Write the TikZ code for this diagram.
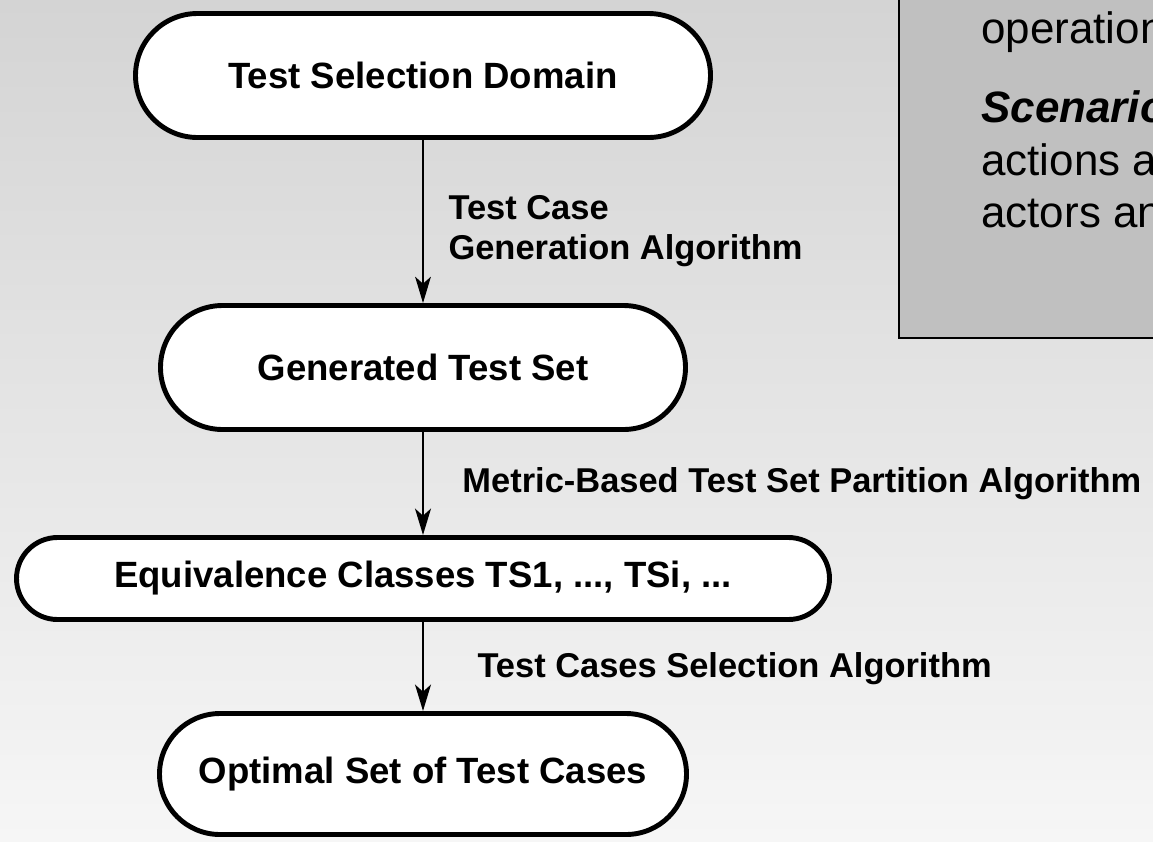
\documentclass[tikz,border=0pt]{standalone}
\usepackage{fontspec}
\setmainfont{Liberation Sans}
\usepackage{tikz}
\usetikzlibrary{positioning, arrows.meta}

\definecolor{bgtop}{RGB}{212,212,212}
\definecolor{bgbottom}{RGB}{246,246,246}
\definecolor{notegray}{RGB}{192,192,192}

\tikzstyle{terminal} = [rectangle, rounded corners=1.24cm, minimum width=10.5cm, minimum height=2.48cm, text centered, draw=black, line width=2.8pt, fill=white, font=\fontsize{20.8pt}{24pt}\selectfont\bfseries]
\tikzstyle{arrow} = [line width=1.7pt, -{Stealth[length=15pt, width=9pt, inset=4pt]}]
\tikzstyle{thinarrow} = [arrow, line width=0.6pt]
\tikzstyle{steplabel} = [anchor=west, inner sep=0pt, align=left, font=\fontsize{19.6pt}{22.8pt}\selectfont\bfseries]
\tikzstyle{notetext} = [anchor=base west, inner sep=0pt, font=\fontsize{25pt}{30pt}\selectfont]

\begin{document}
\begin{tikzpicture}[node distance=4cm]
			% Background
			\useasboundingbox (0,0) rectangle (23.06,-16.82);
			\clip (0,0) rectangle (23.06,-16.82);
			\shade [top color=bgtop, bottom color=bgbottom] (0,0) rectangle (23.06,-16.82);
			
			% Note box
			\draw [fill=notegray, line width=1.2pt] (17.98,-6.76) rectangle (24,0.5);
			\node (note_operation) [notetext] at (19.62,-0.86) {operation};
			\node (note_scenario) [notetext] at (19.62,-2.44) {\textbf{\textit{Scenario}}};
			\node (note_actions) [notetext] at (19.62,-3.5) {actions ar};
			\node (note_actors) [notetext] at (19.62,-4.54) {actors an};
			
			% Nodes
			\node (domain) [terminal, minimum width=11.5cm] at (8.46,-1.51) {Test Selection Domain};
			\node (generated) [terminal, below of=domain, yshift=-1.84cm] {Generated Test Set};
			\node (classes) [terminal, below of=generated, yshift=-0.22cm, minimum width=16.26cm, minimum height=1.64cm, rounded corners=0.82cm] {Equivalence Classes TS1, ..., TSi, ...};
			\node (optimal) [terminal, below of=classes, yshift=0.09cm, minimum width=10.54cm, minimum height=2.42cm, rounded corners=1.21cm] {Optimal Set of Test Cases};
			
			% Arrows
			\draw [thinarrow] (domain) -- node[steplabel, xshift=0.5cm, yshift=-0.19cm] {Test Case\\Generation Algorithm} (generated);
			\draw [arrow] (generated) -- node[steplabel, xshift=0.76cm] {Metric-Based Test Set Partition Algorithm} (classes);
			\draw [arrow] (classes) -- node[steplabel, xshift=1.06cm, yshift=-0.04cm] {Test Cases Selection Algorithm} (optimal);
		\end{tikzpicture}
\end{document}
